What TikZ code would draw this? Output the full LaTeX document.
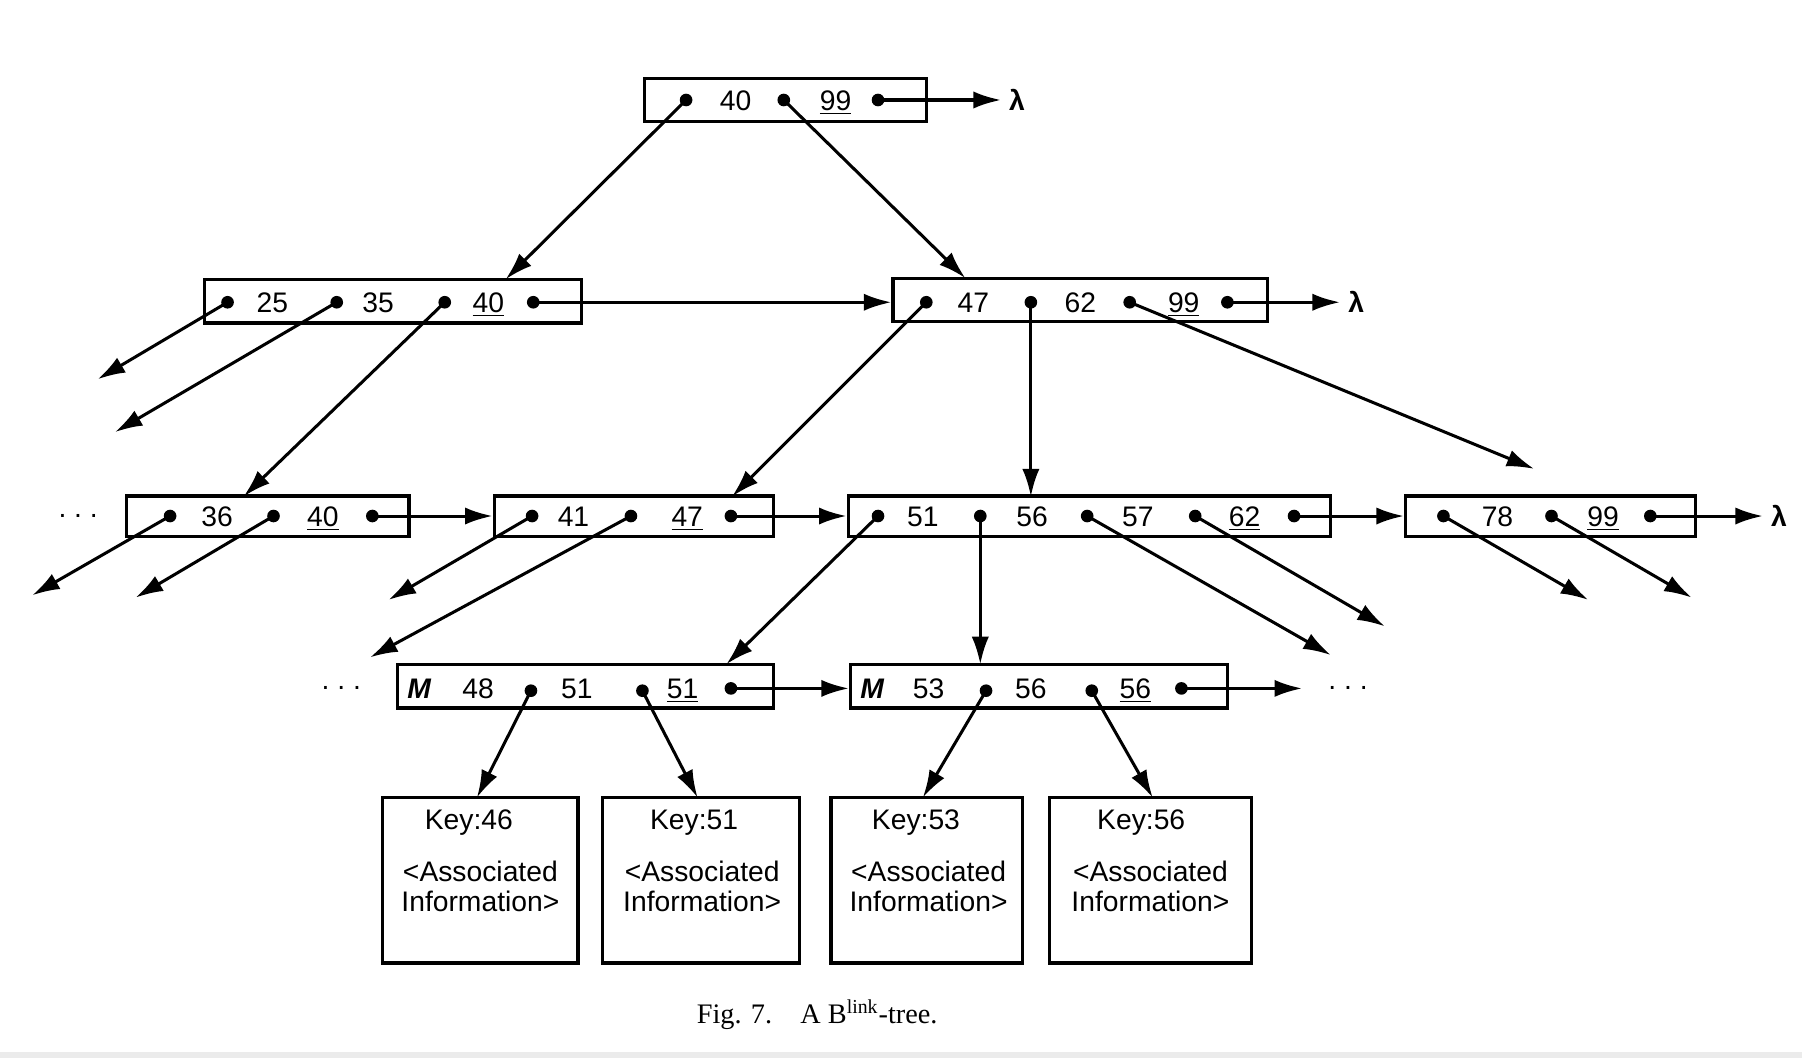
\documentclass[tikz,border=0pt]{standalone}
\usepackage{fontspec}
\setmainfont{Liberation Serif}
\newfontfamily\figfont{Liberation Sans}
\usepackage{tikz}
\usetikzlibrary{arrows.meta}

\begin{document}
\begin{tikzpicture}[x=0.02cm, y=-0.02cm, line width=1.5pt,
  font=\figfont\fontsize{14}{15}\selectfont,
  box/.style={draw, line width=1.6pt, minimum height=0.76cm, inner sep=0pt},
  leaf/.style={draw, line width=1.6pt, minimum height=2.88cm, inner sep=0pt},
  dot/.style={circle, fill, inner sep=0pt, minimum size=0.22cm},
  key/.style={inner sep=0pt, text height=10pt, text depth=0pt},
  ptr/.style={-{Latex[length=4.8mm, width=3mm]}}]
\useasboundingbox (0,0) rectangle (1568,921);
\fill[black!8] (0,915) rectangle (1568,921);

% root
\node[box, minimum width=4.9cm] (r) at (683.5,87) {};
\node[dot] (r1) at (597,87) {};
\node[dot] (r2) at (682,87) {};
\node[dot] (r3) at (764,87) {};
\node[key] (r40) at (640,87) {40};
\node[key] (r99) at (727,87) {\underline{99}};
\node (rl) at (885,87) {\textbf{λ}};

% second level
\node[box, minimum width=6.56cm] (p) at (342,262) {};
\node[dot] (p1) at (198,263) {};
\node[dot] (p2) at (293,263) {};
\node[dot] (p3) at (387,263) {};
\node[dot] (p4) at (464,263) {};
\node[key] (p25) at (237,263) {25};
\node[key] (p35) at (329,263) {35};
\node[key] (p40) at (425,263) {\underline{40}};

\node[box, minimum width=6.52cm] (q) at (940,261) {};
\node[dot] (q1) at (806,263) {};
\node[dot] (q2) at (897,263) {};
\node[dot] (q3) at (983,263) {};
\node[dot] (q4) at (1068,263) {};
\node[key] (q47) at (847,263) {47};
\node[key] (q62) at (940,263) {62};
\node[key] (q99) at (1030,263) {\underline{99}};
\node (ql) at (1180,263) {\textbf{λ}};

% third level
\node (c0) at (68,449) {.\ .\ .};
\node[box, minimum width=4.92cm, minimum height=0.7cm] (c1) at (233,449) {};
\node[dot] (c11) at (148,449) {};
\node[dot] (c12) at (238,449) {};
\node[dot] (c13) at (324,449) {};
\node[key] (c36) at (189,449) {36};
\node[key] (c40) at (281,449) {\underline{40}};

\node[box, minimum width=4.86cm, minimum height=0.7cm] (c2) at (551.5,449) {};
\node[dot] (c21) at (463,449) {};
\node[dot] (c22) at (549,449) {};
\node[dot] (c23) at (636,449) {};
\node[key] (c41) at (499,449) {41};
\node[key] (c47) at (598,449) {\underline{47}};

\node[box, minimum width=8.4cm, minimum height=0.7cm] (c3) at (948,449) {};
\node[dot] (c31) at (764,449) {};
\node[dot] (c32) at (853,449) {};
\node[dot] (c33) at (946,449) {};
\node[dot] (c34) at (1040,449) {};
\node[dot] (c35) at (1126,449) {};
\node[key] (c51) at (803,449) {51};
\node[key] (c56) at (898,449) {56};
\node[key] (c57) at (990,449) {57};
\node[key] (c62) at (1083,449) {\underline{62}};

\node[box, minimum width=5.04cm, minimum height=0.7cm] (c4) at (1349,449) {};
\node[dot] (c41d) at (1256,449) {};
\node[dot] (c42d) at (1350,449) {};
\node[dot] (c43d) at (1436,449) {};
\node[key] (c78) at (1303,449) {78};
\node[key] (c99) at (1395,449) {\underline{99}};
\node (cl) at (1548,449) {\textbf{λ}};

% leaf level
\node (m0) at (297,599) {.\ .\ .};
\node[box, minimum width=6.54cm] (m1) at (509.5,597) {};
\node[key] (m1M) at (365,599) {\textbf{\textit{M}}};
\node[key] (m48) at (416,599) {48};
\node[key] (m51) at (502,599) {51};
\node[key] (m51u) at (594,599) {\underline{51}};
\node[dot] (m11) at (462,601) {};
\node[dot] (m12) at (559,601) {};
\node[dot] (m13) at (636,599) {};

\node[box, minimum width=6.56cm] (m2) at (904,597) {};
\node[key] (m2M) at (759,599) {\textbf{\textit{M}}};
\node[key] (m53) at (808,599) {53};
\node[key] (m56) at (897,599) {56};
\node[key] (m56u) at (988,599) {\underline{56}};
\node[dot] (m21) at (858,601) {};
\node[dot] (m22) at (950,601) {};
\node[dot] (m23) at (1028,599) {};
\node (m3) at (1173,599) {.\ .\ .};

% records
\node[leaf, minimum width=3.4cm] (k1) at (418,766) {};
\node[leaf, minimum width=3.44cm] (k2) at (610,766) {};
\node[leaf, minimum width=3.34cm] (k3) at (806.5,766) {};
\node[leaf, minimum width=3.52cm] (k4) at (1001,766) {};
\node (k1a) at (408,716) {Key:46};
\node (k2a) at (604,716) {Key:51};
\node (k3a) at (797,716) {Key:53};
\node (k4a) at (993,716) {Key:56};
\node[align=center] (k1b) at (418,771) {<Associated\\Information>};
\node[align=center] (k2b) at (611,771) {<Associated\\Information>};
\node[align=center] (k3b) at (808,771) {<Associated\\Information>};
\node[align=center] (k4b) at (1001,771) {<Associated\\Information>};

% arrow ends
\coordinate (pin) at (440,243);
\coordinate (qin) at (840,242);
\coordinate (p1e) at (85,330);
\coordinate (p2e) at (100,376);
\coordinate (c1in) at (212,432);
\coordinate (c2in) at (637,432);
\coordinate (c3in) at (897,432);
\coordinate (q3e) at (1335,408);
\coordinate (c11e) at (28,518);
\coordinate (c12e) at (118,520);
\coordinate (c21e) at (338,522);
\coordinate (c22e) at (322,572);
\coordinate (m1in) at (632,578);
\coordinate (m2in) at (853,578);
\coordinate (c33e) at (1158,570);
\coordinate (c34e) at (1205,545);
\coordinate (c41e) at (1382,522);
\coordinate (c42e) at (1472,520);
\coordinate (k1in) at (415,694);
\coordinate (k2in) at (607,694);
\coordinate (k3in) at (803,694);
\coordinate (k4in) at (1003,694);
\coordinate (m23e) at (1133,599);

\draw[ptr] (r1.center) -- (pin);
\draw[ptr] (r2.center) -- (qin);
\draw[ptr] (r3.center) -- (rl.west);

\draw[ptr] (p1.center) -- (p1e);
\draw[ptr] (p2.center) -- (p2e);
\draw[ptr] (p3.center) -- (c1in);
\draw[ptr] (p4.center) -- (p4.center -| q.west);
\draw[ptr] (q1.center) -- (c2in);
\draw[ptr] (q2.center) -- (c3in);
\draw[ptr] (q3.center) -- (q3e);
\draw[ptr] (q4.center) -- (ql.west);

\draw[ptr] (c11.center) -- (c11e);
\draw[ptr] (c12.center) -- (c12e);
\draw[ptr] (c13.center) -- (c13.center -| c2.west);
\draw[ptr] (c21.center) -- (c21e);
\draw[ptr] (c22.center) -- (c22e);
\draw[ptr] (c23.center) -- (c23.center -| c3.west);
\draw[ptr] (c31.center) -- (m1in);
\draw[ptr] (c32.center) -- (m2in);
\draw[ptr] (c33.center) -- (c33e);
\draw[ptr] (c34.center) -- (c34e);
\draw[ptr] (c35.center) -- (c35.center -| c4.west);
\draw[ptr] (c41d.center) -- (c41e);
\draw[ptr] (c42d.center) -- (c42e);
\draw[ptr] (c43d.center) -- (cl.west);

\draw[ptr] (m11.center) -- (k1in);
\draw[ptr] (m12.center) -- (k2in);
\draw[ptr] (m13.center) -- (m13.center -| m2.west);
\draw[ptr] (m21.center) -- (k3in);
\draw[ptr] (m22.center) -- (k4in);
\draw[ptr] (m23.center) -- (m23e);

\node[font=\rmfamily\fontsize{14}{16}\selectfont] (cap) at (711,883) {Fig. 7.\quad A B\textsuperscript{link}-tree.};
\end{tikzpicture}
\end{document}
